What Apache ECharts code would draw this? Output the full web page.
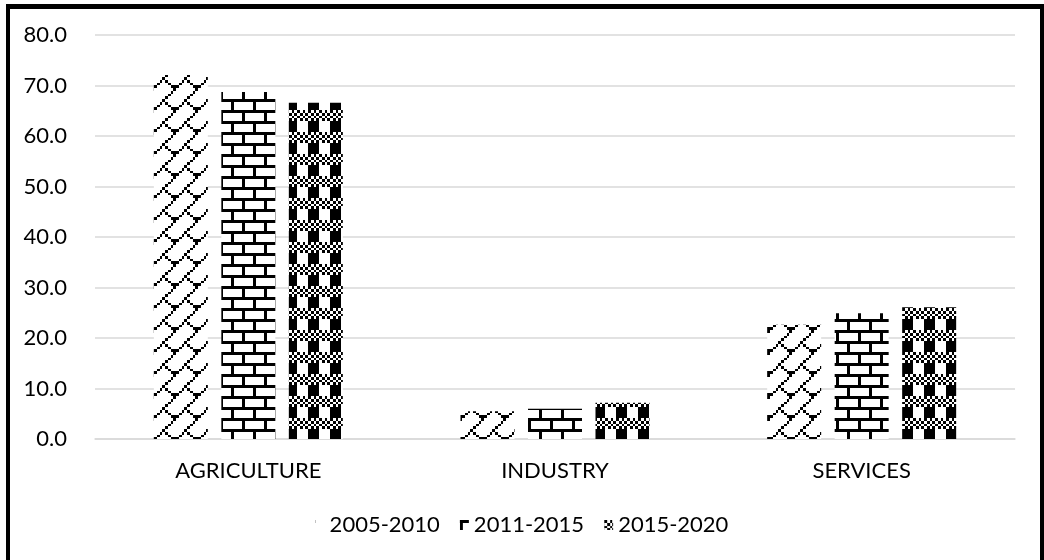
<!DOCTYPE html>
<html>
<head>
<meta charset="utf-8">
<script src="https://cdn.jsdelivr.net/npm/echarts@6/dist/echarts.min.js"></script>
<style>
  html, body { margin: 0; padding: 0; background: #fff; }
  #wrap { position: relative; width: 1044px; height: 560px; overflow: hidden; }
  #chart { position: absolute; left: 0; top: 0; width: 1044px; height: 560px; }
  #frame {
    position: absolute; left: 6px; top: 4px; width: 1038px; height: 600px;
    box-sizing: border-box; border-style: solid; border-color: #000;
    border-width: 5px 4px 4px 4px; pointer-events: none;
  }
</style>
</head>
<body>
<div id="wrap">
  <div id="chart"></div>
  <div id="frame"></div>
</div>
<script>
// Sector shares by period
const sectors = ['AGRICULTURE', 'INDUSTRY', 'SERVICES'];
const periods = ['2005-2010', '2011-2015', '2015-2020'];
const share2005_2010 = [72.1, 5.5, 22.6];
const share2011_2015 = [68.7, 6.0, 24.9];
const share2015_2020 = [66.6, 7.2, 26.1];
const yTicks = [0, 10, 20, 30, 40, 50, 60, 70, 80];

// 8x8 fill bitmaps, drawn scaled into repeating canvas tiles
const DIAG_BRICK = [
  '00000001',
  '00000010',
  '00000100',
  '00001000',
  '00010000',
  '00101000',
  '01000100',
  '10000011'
];
const HORZ_BRICK = [
  '11111111',
  '10000000',
  '10000000',
  '10000000',
  '11111111',
  '00001000',
  '00001000',
  '00001000'
];
const PLAID = [
  '10101010',
  '01010101',
  '10101010',
  '01010101',
  '11110000',
  '11110000',
  '11110000',
  '11110000'
];

function makeTile(bits, size, dot) {
  const c = document.createElement('canvas');
  c.width = size; c.height = size;
  const ctx = c.getContext('2d');
  ctx.fillStyle = '#fff';
  ctx.fillRect(0, 0, size, size);
  ctx.fillStyle = '#000';
  const s = size / 8;
  for (let r = 0; r < 8; r++) {
    for (let k = 0; k < 8; k++) {
      if (bits[r][k] !== '1') continue;
      const x0 = Math.round(k * s), x1 = Math.round((k + 1) * s);
      const y0 = Math.round(r * s), y1 = Math.round((r + 1) * s);
      if (dot) ctx.fillRect(x0, y0, dot, dot);
      else ctx.fillRect(x0, y0, x1 - x0, y1 - y0);
    }
  }
  return { image: c, repeat: 'repeat' };
}

const fills = [
  makeTile(DIAG_BRICK, 22, 0),
  makeTile(HORZ_BRICK, 22, 0),
  makeTile(PLAID, 22, 0)
];
const values = [share2005_2010, share2011_2015, share2015_2020];

const FONT = 'Lato, "Open Sans", sans-serif';
const chart = echarts.init(document.getElementById('chart'));
chart.setOption({
  backgroundColor: '#fff',
  animation: false,
  grid: { left: 95, right: 29, top: 35, bottom: 121, containLabel: false },
  legend: {
    data: periods,
    top: 509,
    left: 'center',
    itemWidth: 9,
    itemHeight: 10,
    itemGap: 20,
    icon: 'rect',
    textStyle: { fontFamily: FONT, fontSize: 22, color: '#000' }
  },
  xAxis: {
    type: 'category',
    data: sectors,
    axisLine: { show: true, lineStyle: { color: '#d9d9d9', width: 1.5 } },
    axisTick: { show: false },
    axisLabel: { fontFamily: FONT, fontSize: 22, color: '#000', margin: 21 }
  },
  yAxis: {
    type: 'value',
    min: yTicks[0],
    max: yTicks[yTicks.length - 1],
    interval: yTicks[1] - yTicks[0],
    axisLine: { show: false },
    axisTick: { show: false },
    splitLine: { lineStyle: { color: '#d9d9d9', width: 1.5 } },
    axisLabel: {
      fontFamily: FONT, fontSize: 22, color: '#000', margin: 28,
      formatter: v => v.toFixed(1)
    }
  },
  series: periods.map((name, i) => ({
    name: name,
    type: 'bar',
    data: values[i],
    barWidth: 54,
    barGap: '25%',
    itemStyle: { color: fills[i] }
  }))
});
</script>
</body>
</html>
